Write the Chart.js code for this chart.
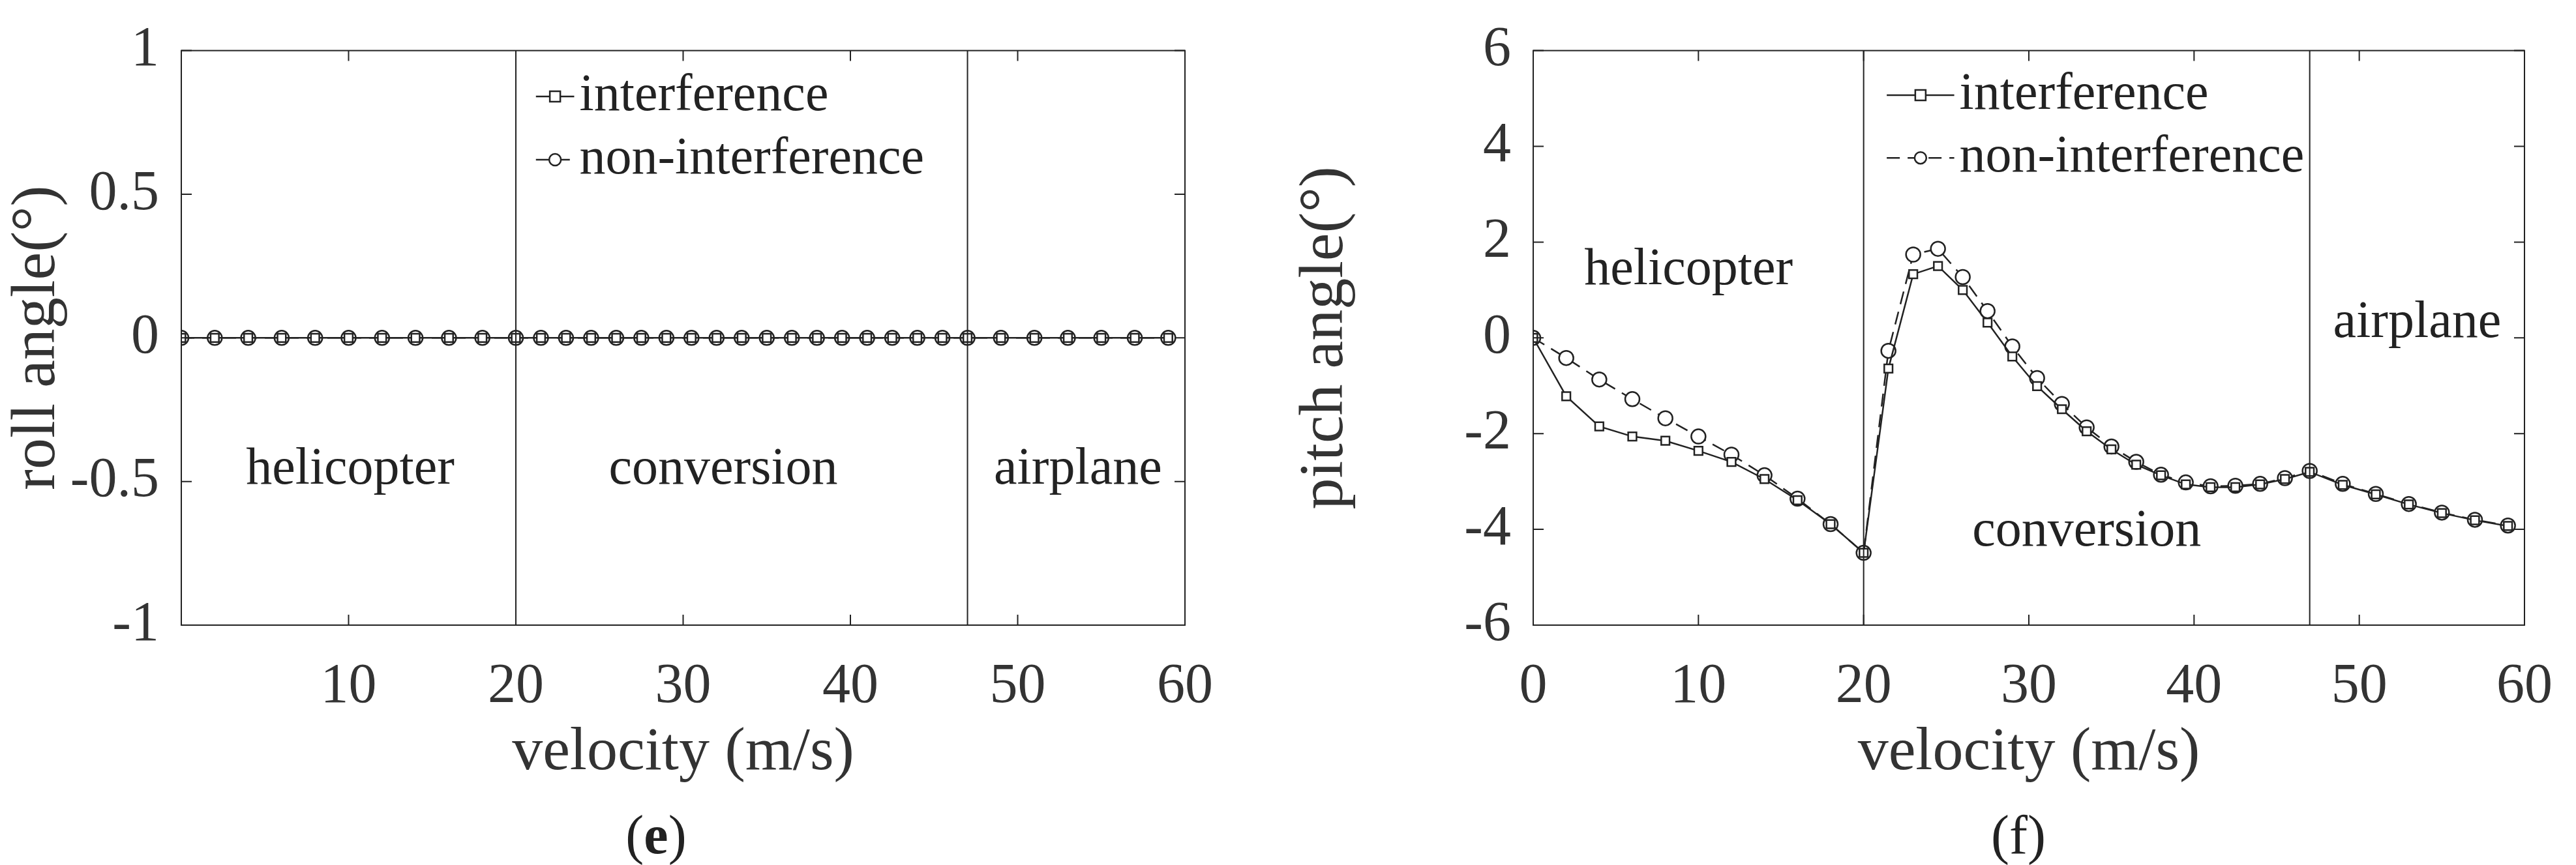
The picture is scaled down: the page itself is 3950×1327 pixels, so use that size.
<!DOCTYPE html>
<html><head><meta charset="utf-8">
<script src="https://cdn.jsdelivr.net/npm/chart.js@4/dist/chart.umd.min.js"></script>
<style>
body{margin:0;background:#fff;width:3950px;height:1327px;overflow:hidden;position:relative;font-family:"Liberation Serif",serif}
canvas{position:absolute;top:0}
.cap{position:absolute;top:1232px;font-size:84px;color:#222;transform:translateX(-50%)}
</style></head><body>
<canvas id="c1" width="1975" height="1327" style="left:0"></canvas>
<canvas id="c2" width="1975" height="1327" style="left:1975px"></canvas>
<div class="cap" style="left:1006px">(<b>e</b>)</div>
<div class="cap" style="left:3095px">(f)</div>
<script>
const velocities=[0,2,4,6,8,10,12,14,16,18,20,21.5,23,24.5,26,27.5,29,30.5,32,33.5,35,36.5,38,39.5,41,42.5,44,45.5,47,49,51,53,55,57,59];
const rollInterference=velocities.map(()=>0);
const rollNonInterference=velocities.map(()=>0);
const pitchInterference=[0,-1.22,-1.85,-2.06,-2.15,-2.36,-2.59,-2.95,-3.39,-3.89,-4.49,-0.64,1.33,1.5,1.0,0.32,-0.39,-1.01,-1.49,-1.95,-2.33,-2.65,-2.87,-3.06,-3.12,-3.12,-3.06,-2.95,-2.8,-3.07,-3.27,-3.48,-3.66,-3.81,-3.93];
const pitchNonInterference=[0,-0.42,-0.87,-1.28,-1.68,-2.06,-2.44,-2.87,-3.36,-3.89,-4.49,-0.27,1.74,1.86,1.27,0.56,-0.18,-0.84,-1.38,-1.87,-2.27,-2.59,-2.86,-3.02,-3.1,-3.09,-3.05,-2.93,-2.78,-3.05,-3.26,-3.47,-3.65,-3.8,-3.92];
const modeBoundaries=[20,47];
const seriesNames=['interference','non-interference'];
const regionNames=['helicopter','conversion','airplane'];
const rollTicks=[-1,-0.5,0,0.5,1];
const pitchTicks=[-6,-4,-2,0,2,4,6];
const xTicks=[0,10,20,30,40,50,60];

const FONT='"Liberation Serif", serif';
const INK='#222';

function makeChart(id,yv1,yv2,yTicks,yTitle,regionPos,legendPos,pad,hideZero){
  const ds=(vals,i)=>({label:seriesNames[i],data:velocities.map((x,k)=>({x,y:vals[k]})),
    borderColor:INK,borderWidth:2.5,borderDash:i?[20,12]:[],pointStyle:i?'circle':'rect',
    pointRadius:i?11:9,pointBorderWidth:2.5,pointBackgroundColor:'#fff',pointBorderColor:INK,tension:0});
  const overlay={id:'ov',afterDatasetsDraw(c){
    const {ctx,chartArea:a,scales:{x,y}}=c;
    ctx.save();ctx.strokeStyle=INK;ctx.lineWidth=2;
    modeBoundaries.forEach(b=>{const px=x.getPixelForValue(b);ctx.beginPath();ctx.moveTo(px,a.top);ctx.lineTo(px,a.bottom);ctx.stroke();});
    ctx.strokeRect(a.left,a.top,a.right-a.left,a.bottom-a.top);
    const tl=16;
    xTicks.forEach(t=>{const px=x.getPixelForValue(t);ctx.beginPath();ctx.moveTo(px,a.bottom);ctx.lineTo(px,a.bottom-tl);ctx.moveTo(px,a.top);ctx.lineTo(px,a.top+tl);ctx.stroke();});
    yTicks.forEach(t=>{const py=y.getPixelForValue(t);ctx.beginPath();ctx.moveTo(a.left,py);ctx.lineTo(a.left+tl,py);ctx.moveTo(a.right,py);ctx.lineTo(a.right-tl,py);ctx.stroke();});
    ctx.fillStyle=INK;ctx.font='80px '+FONT;ctx.textAlign='center';ctx.textBaseline='middle';
    regionNames.forEach((r,i)=>ctx.fillText(r,x.getPixelForValue(regionPos[i][0]),y.getPixelForValue(regionPos[i][1])));
    const [lx,ly1,ly2,tx]=legendPos;
    [ly1,ly2].forEach((ly,i)=>{
      const py=y.getPixelForValue(ly),x0=x.getPixelForValue(lx),x1=x.getPixelForValue(tx)-8;
      ctx.setLineDash(i?[20,12]:[]);ctx.lineWidth=2.5;ctx.beginPath();ctx.moveTo(x0,py);ctx.lineTo(x1,py);ctx.stroke();ctx.setLineDash([]);
      const mx=(x0+x1)/2;ctx.fillStyle='#fff';ctx.beginPath();
      if(i){ctx.arc(mx,py,9,0,Math.PI*2);}else{ctx.rect(mx-8,py-8,16,16);}
      ctx.fill();ctx.stroke();
      ctx.fillStyle=INK;ctx.textAlign='left';ctx.font='80px '+FONT;ctx.fillText(seriesNames[i],x.getPixelForValue(tx),py);
    });
    ctx.restore();
  }};
  return new Chart(document.getElementById(id),{type:'line',
    data:{datasets:[ds(yv1,0),ds(yv2,1)]},
    options:{responsive:false,animation:false,devicePixelRatio:1,
      layout:{padding:{top:64,right:pad.right,bottom:115,left:0}},
      plugins:{legend:{display:false},tooltip:{enabled:false}},
      scales:{
        x:{type:'linear',min:0,max:60,afterBuildTicks(s){s.ticks=xTicks.map(v=>({value:v}));},
          afterFit(s){s.height=1327-115-959;},
          grid:{display:false},border:{display:false},
          ticks:{color:'#333',font:{family:FONT,size:86},padding:36,maxRotation:0,autoSkip:false,callback:v=>(hideZero&&v===0)?'':String(v)},
          title:{display:true,text:'velocity (m/s)',color:'#333',font:{family:FONT,size:94},padding:{top:0,bottom:0}}},
        y:{type:'linear',min:yTicks[0],max:yTicks[yTicks.length-1],afterBuildTicks(s){s.ticks=yTicks.map(v=>({value:v}));},
          afterFit(s){s.width=pad.left;},
          grid:{display:false},border:{display:false},
          ticks:{color:'#333',font:{family:FONT,size:86},padding:26,autoSkip:false,callback:v=>String(v)},
          title:{display:true,text:yTitle,color:'#333',font:{family:FONT,size:96},padding:{top:0,bottom:14}}}
      }},plugins:[overlay]});
}
makeChart('c1',rollInterference,rollNonInterference,rollTicks,'roll angle(°)',
  [[10.1,-0.46],[32.4,-0.46],[53.6,-0.46]],[21.2,0.84,0.62,23.8],{left:278,right:158},true);
makeChart('c2',pitchInterference,pitchNonInterference,pitchTicks,'pitch angle(°)',
  [[9.4,1.4],[33.5,-4.05],[53.5,0.3]],[21.4,5.07,3.76,25.8],{left:376,right:44},false);
</script></body></html>
